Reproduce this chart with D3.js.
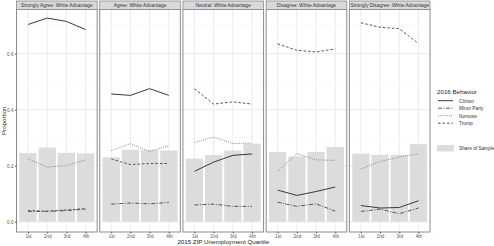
<!DOCTYPE html>
<html>
<head>
<meta charset="utf-8">
<script src="https://cdn.jsdelivr.net/npm/d3@7"></script>
<style>
  body { margin: 0; background: #fff; }
  text { font-family: "Liberation Sans", Arial, sans-serif; }
</style>
</head>
<body>
<div id="chart"></div>
<script>
// Data
var quartiles = ["1st", "2nd", "3rd", "4th"];
var panels = ["Strongly Agree: White Advantage", "Agree: White Advantage", "Neutral: White Advantage",
              "Disagree: White Advantage", "Strongly Disagree: White Advantage"];
var behaviors = ["Clinton", "Minor Party", "Nonvote", "Trump"];

// one row per panel, one value per quartile
var clinton = [[0.704, 0.727, 0.715, 0.686], [0.456, 0.451, 0.475, 0.451], [0.180, 0.213, 0.237, 0.242],
               [0.113, 0.094, 0.108, 0.124], [0.058, 0.049, 0.051, 0.075]];
var minorParty = [[0.037, 0.037, 0.040, 0.045], [0.063, 0.067, 0.064, 0.069], [0.060, 0.063, 0.055, 0.055],
                  [0.070, 0.055, 0.064, 0.038], [0.037, 0.045, 0.029, 0.049]];
var nonvote = [[0.224, 0.195, 0.200, 0.221], [0.254, 0.279, 0.251, 0.271], [0.283, 0.302, 0.279, 0.281],
               [0.180, 0.243, 0.221, 0.219], [0.189, 0.215, 0.231, 0.243]];
var trump = [[0.040, 0.038, 0.042, 0.047], [0.224, 0.204, 0.208, 0.208], [0.475, 0.420, 0.428, 0.420],
             [0.635, 0.612, 0.606, 0.617], [0.710, 0.694, 0.689, 0.636]];
var share = [[0.245, 0.265, 0.246, 0.244], [0.230, 0.257, 0.256, 0.254], [0.225, 0.238, 0.254, 0.279],
             [0.249, 0.233, 0.249, 0.267], [0.243, 0.239, 0.239, 0.277]];
var yTicks = [0, 0.2, 0.4, 0.6];
var yMinor = [0.1, 0.3, 0.5, 0.7];

var seriesByBehavior = { "Clinton": clinton, "Minor Party": minorParty, "Nonvote": nonvote, "Trump": trump };
var dashes = { "Clinton": null, "Minor Party": "4,1.5,1,1.5", "Nonvote": "1,1.2", "Trump": "2.5,2" };
var strokes = { "Clinton": "#3a3a3a", "Minor Party": "#555", "Nonvote": "#8a8a8a", "Trump": "#555" };

var W = 494, H = 246;
var svg = d3.select("#chart").append("svg").attr("width", W).attr("height", H);

var plotTop = 9.5, plotBottom = 232, stripTop = 1;

// panel positions
var panelX = d3.scaleBand().domain(panels).range([16.5, 430]).paddingInner(0.031);
var pw = panelX.bandwidth();

var y = d3.scaleLinear().domain([-0.0365, 0.7575]).range([plotBottom, plotTop]);
var x = d3.scalePoint().domain(quartiles).range([0, pw]).padding(0.6);
var barW = x.step() * 0.9;

var line = d3.line().x(function (d, i) { return x(quartiles[i]); }).y(function (d) { return y(d); });

panels.forEach(function (p, pi) {
  var g = svg.append("g").attr("transform", "translate(" + panelX(p) + ",0)");

  // grid
  g.selectAll(".minor").data(yMinor).enter().append("line")
    .attr("x1", 0).attr("x2", pw).attr("y1", d => y(d)).attr("y2", d => y(d))
    .attr("stroke", "#f3f3f3").attr("stroke-width", 0.5);
  g.selectAll(".major").data(yTicks).enter().append("line")
    .attr("x1", 0).attr("x2", pw).attr("y1", d => y(d)).attr("y2", d => y(d))
    .attr("stroke", "#ebebeb").attr("stroke-width", 1);
  g.selectAll(".vgrid").data(quartiles).enter().append("line")
    .attr("x1", d => x(d)).attr("x2", d => x(d)).attr("y1", plotTop).attr("y2", plotBottom)
    .attr("stroke", "#ebebeb").attr("stroke-width", 1);

  // share of sample bars
  g.selectAll(".bar").data(share[pi]).enter().append("rect")
    .attr("x", (d, i) => x(quartiles[i]) - barW / 2)
    .attr("width", barW)
    .attr("y", d => y(d))
    .attr("height", d => y(0) - y(d))
    .attr("fill", "#dcdcdc");

  // behavior lines
  behaviors.forEach(function (b) {
    g.append("path")
      .datum(seriesByBehavior[b][pi])
      .attr("d", line)
      .attr("fill", "none")
      .attr("stroke", strokes[b])
      .attr("stroke-width", 1)
      .attr("stroke-dasharray", dashes[b]);
  });

  // panel border
  g.append("rect").attr("x", 0).attr("y", plotTop).attr("width", pw).attr("height", plotBottom - plotTop)
    .attr("fill", "none").attr("stroke", "#8c8c8c").attr("stroke-width", 1);

  // strip
  g.append("rect").attr("x", 0).attr("y", stripTop).attr("width", pw).attr("height", plotTop - stripTop)
    .attr("fill", "#d9d9d9").attr("stroke", "#8c8c8c").attr("stroke-width", 0.8);
  g.append("text").attr("x", pw / 2).attr("y", (stripTop + plotTop) / 2 + 1.8)
    .attr("text-anchor", "middle").attr("font-size", 4.9).attr("fill", "#333").text(p);

  // x axis
  var xa = g.append("g").attr("transform", "translate(0," + plotBottom + ")")
    .call(d3.axisBottom(x).tickSize(1.5).tickPadding(1));
  xa.select(".domain").remove();
  xa.selectAll("line").attr("stroke", "#555");
  xa.selectAll("text").attr("font-size", 4.6).attr("fill", "#555");
});

// y axis on first panel
var ya = svg.append("g").attr("transform", "translate(" + panelX(panels[0]) + ",0)")
  .call(d3.axisLeft(y).tickValues(yTicks).tickFormat(d3.format(".1f")).tickSize(1.5).tickPadding(1.5));
ya.select(".domain").remove();
ya.selectAll("line").attr("stroke", "#555");
ya.selectAll("text").attr("font-size", 4.6).attr("fill", "#555");

// axis titles
svg.append("text").attr("transform", "translate(6," + ((plotTop + plotBottom) / 2) + ") rotate(-90)")
  .attr("text-anchor", "middle").attr("font-size", 6.2).attr("fill", "#222").text("Proportion");
svg.append("text").attr("x", (16.5 + 430) / 2).attr("y", 244.3)
  .attr("text-anchor", "middle").attr("font-size", 6.2).attr("fill", "#222").text("2015 ZIP Unemployment Quartile");

// legend
var lg = svg.append("g").attr("transform", "translate(437,0)");
lg.append("text").attr("x", 0).attr("y", 93.5).attr("font-size", 6.2).attr("fill", "#222").text("2016 Behavior");
behaviors.forEach(function (b, i) {
  var cy = 100.7 + i * 7.5;
  lg.append("line").attr("x1", 1).attr("x2", 16).attr("y1", cy).attr("y2", cy)
    .attr("stroke", strokes[b]).attr("stroke-width", 1).attr("stroke-dasharray", dashes[b]);
  lg.append("text").attr("x", 22).attr("y", cy + 1.8).attr("font-size", 4.8).attr("fill", "#333").text(b);
});
lg.append("rect").attr("x", 0).attr("y", 145).attr("width", 17).attr("height", 6.5).attr("fill", "#dcdcdc");
lg.append("text").attr("x", 22).attr("y", 150).attr("font-size", 4.8).attr("fill", "#333").text("Share of Sample");
</script>
</body>
</html>
